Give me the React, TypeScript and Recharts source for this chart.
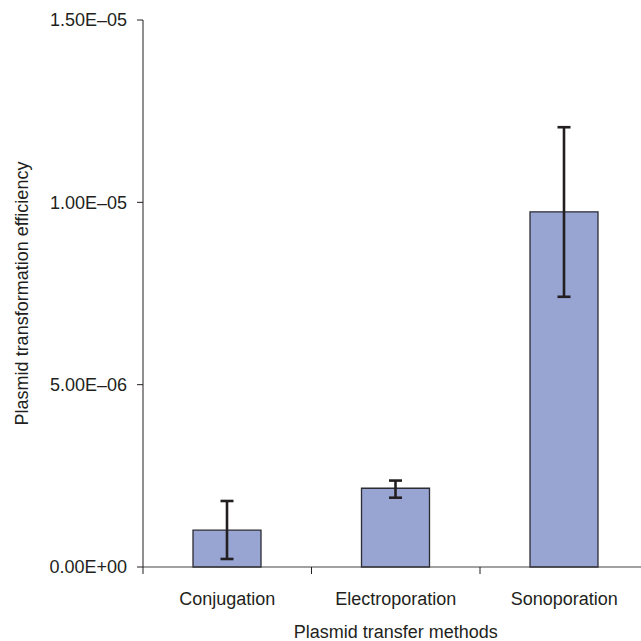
import React from "react";
import { BarChart, Bar, XAxis, YAxis, ErrorBar } from "recharts";

const categories = ["Conjugation", "Electroporation", "Sonoporation"];
const efficiency = [1.01e-6, 2.16e-6, 9.74e-6];
const errorLow = [0.79e-6, 0.26e-6, 2.33e-6];
const errorHigh = [0.8e-6, 0.21e-6, 2.32e-6];
const yTicks = [0, 5e-6, 1e-5, 1.5e-5];
const yTickLabels = ["0.00E+00", "5.00E\u201306", "1.00E\u201305", "1.50E\u201305"];
const xTicks = [0, 0.5, 1, 1.5, 2, 2.5, 3];

const data = categories.map((name, i) => ({
  name,
  pos: i + 0.5,
  value: efficiency[i],
  err: [errorLow[i], errorHigh[i]],
}));

const FONT = "'Liberation Sans', Arial, Helvetica, sans-serif";
const INK = "#231f20";

const XTick = (props: any) => {
  const { x, y, payload } = props;
  const v = payload.value;
  if (Number.isInteger(v)) {
    return <line x1={x} x2={x} y1={y} y2={y + 7} stroke={INK} strokeWidth={1} />;
  }
  const idx = Math.floor(v);
  return (
    <text x={x} y={y + 38} textAnchor="middle" fill={INK} fontSize={18} fontFamily={FONT}>
      {categories[idx]}
    </text>
  );
};

export default function App() {
  return (
    <div style={{ position: "absolute", left: 0, top: 0, width: 641, height: 641, overflow: "hidden", background: "#fff" }}>
      <BarChart
        width={700}
        height={641}
        data={data}
        margin={{ top: 20, right: 51.5, bottom: 0, left: 0 }}
      >
        <XAxis
          type="number"
          dataKey="pos"
          domain={[0, 3]}
          ticks={xTicks}
          interval={0}
          tickLine={false}
          tickSize={0}
          tickMargin={0}
          tick={<XTick />}
          height={74}
          stroke={INK}
          axisLine={{ stroke: "#444", strokeWidth: 1.2 }}
          label={{
            value: "Plasmid transfer methods",
            position: "insideBottom",
            offset: 3,
            fill: INK,
            fontSize: 18,
            fontFamily: FONT,
          }}
        />
        <YAxis
          type="number"
          domain={[0, 1.5e-5]}
          ticks={yTicks}
          interval={0}
          width={143}
          tickSize={6}
          tickMargin={10}
          stroke={INK}
          tick={{ fill: INK, fontSize: 18, fontFamily: FONT }}
          tickFormatter={(v: number) => yTickLabels[yTicks.indexOf(v)] ?? ""}
          label={{
            value: "Plasmid transformation efficiency",
            angle: -90,
            position: "insideLeft",
            offset: 21.5,
            fill: INK,
            fontSize: 18,
            fontFamily: FONT,
            style: { textAnchor: "middle" },
          }}
        />
        <Bar
          dataKey="value"
          barSize={68}
          fill="#98A4D2"
          stroke="#2b2b33"
          strokeWidth={1.3}
          isAnimationActive={false}
        >
          <ErrorBar dataKey="err" width={6.5} stroke={INK} strokeWidth={2.6} direction="y" />
        </Bar>
      </BarChart>
    </div>
  );
}
